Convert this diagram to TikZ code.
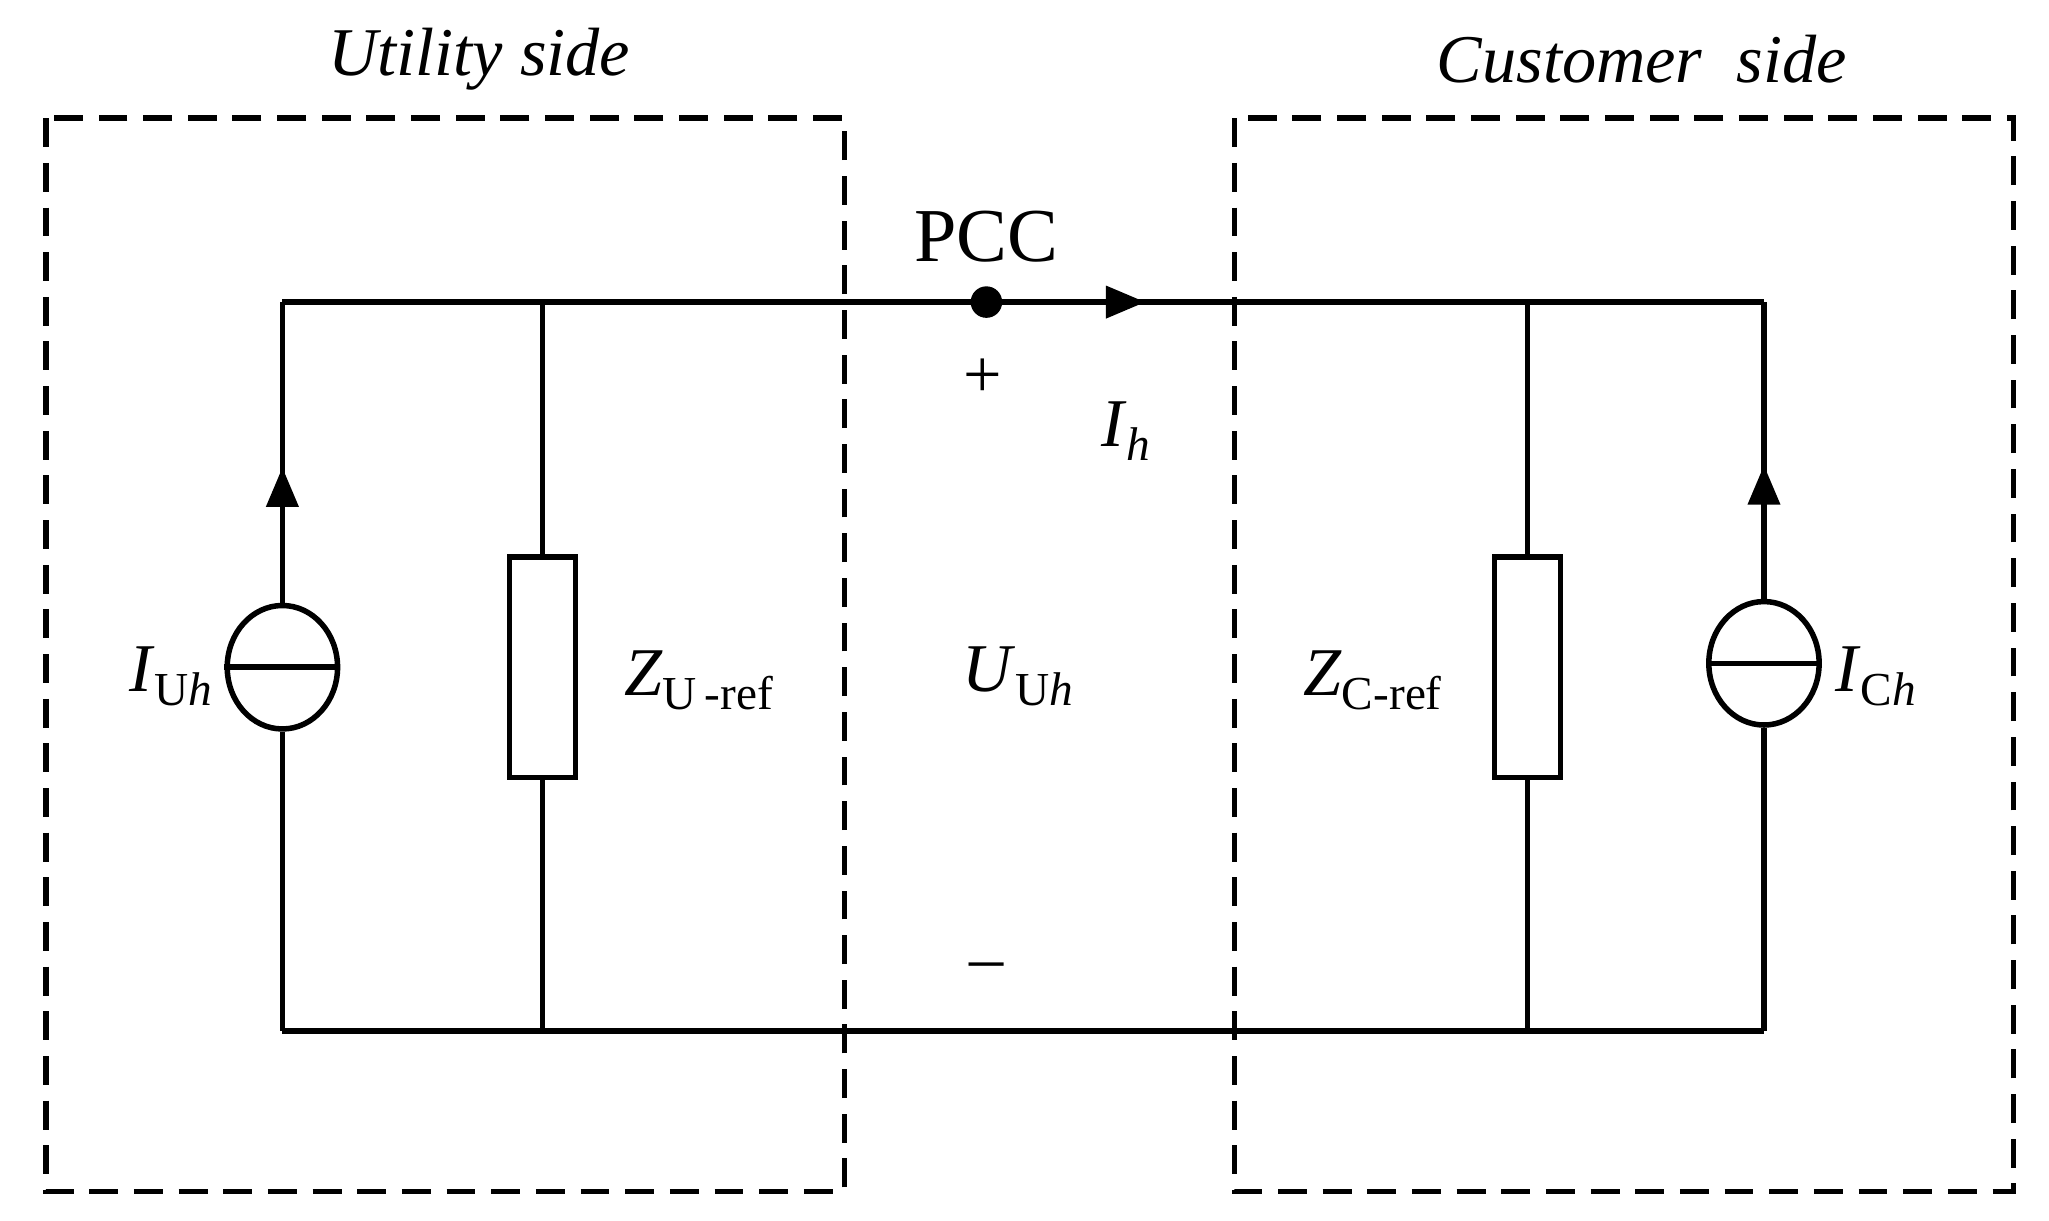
\documentclass[tikz,border=0pt]{standalone}
\usepackage{fontspec}
\setmainfont{Liberation Serif}
\usetikzlibrary{arrows.meta,decorations.markings,shapes.geometric}
\newcommand{\sbx}[1]{\raisebox{-0.45ex}{\fontsize{18}{20}\selectfont #1}}
\begin{document}
\begin{tikzpicture}[x=0.5pt,y=-0.5pt,
  wire/.style={line width=2.1pt},
  box/.style={line width=2.1pt,dash pattern=on 11pt off 6pt},
  lbl/.style={font=\fontsize{26}{30}\selectfont},
  src/.style={draw,ellipse,line width=2.1pt,minimum width=42pt,minimum height=47pt,inner sep=0pt},
  res/.style={draw,rectangle,line width=2.1pt,minimum width=25pt,minimum height=84pt,fill=white,inner sep=0pt},
  arr/.style={postaction={decorate},decoration={markings,mark=at position #1 with {\arrow{Triangle[length=15pt,width=12pt]}}}}]
\useasboundingbox (0,0) rectangle (1560,929);
\draw[box] (35,90) rectangle (643,907);
\draw[box] (940,90) rectangle (1533,907);
\coordinate (tl) at (215,230); \coordinate (tr) at (1343,230);
\coordinate (bl) at (215,785); \coordinate (br) at (1343,785);
\coordinate (t1) at (413,230); \coordinate (b1) at (413,785);
\coordinate (t2) at (1163,230); \coordinate (b2) at (1163,785);
\node[src] (s1) at (215,508) {};
\node[src] (s2) at (1343,505) {};
\draw[wire] (s1.west) -- (s1.east);
\draw[wire] (s2.west) -- (s2.east);
\draw[wire] (tl) -- (tr);
\draw[wire] (bl) -- (br);
\draw[wire] (t1) -- (b1);
\draw[wire] (t2) -- (b2);
\node[res] (r1) at (413,508) {};
\node[res] (r2) at (1163,508) {};
\draw[wire] (bl) -- (s1.south);
\draw[wire,arr=0.45] (s1.north) -- (tl);
\draw[wire] (br) -- (s2.south);
\draw[wire,arr=0.45] (s2.north) -- (tr);
\coordinate (a1) at (751,230); \coordinate (a2) at (872,230);
\draw[wire,arr=1] (a1) -- (a2);
\fill (a1) circle (6pt);
\node[lbl,font=\fontsize{29}{32}\selectfont] (pcc) at (751,180) {PCC};
\node[lbl] (plus) at (748,288) {+};
\node[lbl] (minus) at (751,740) {\textendash};
\node[lbl] (ih) at (857,328) {\textit{I}\sbx{\textit{h}}};
\node[lbl] (uuh) at (775,515) {\textit{U}\sbx{U\textit{h}}};
\node[lbl] (zu) at (532,518) {\textit{Z}\sbx{U\,-ref}};
\node[lbl] (zc) at (1045,518) {\textit{Z}\sbx{C-ref}};
\node[lbl] (iu) at (130,515) {\textit{I}\sbx{U\textit{h}}};
\node[lbl] (ic) at (1428,515) {\textit{I}\sbx{C\textit{h}}};
\node[lbl,font=\fontsize{26}{30}\selectfont\itshape] (us) at (365,45) {Utility side};
\node[lbl,font=\fontsize{26}{30}\selectfont\itshape] (cs) at (1250,45) {Customer\ \ side};
\end{tikzpicture}
\end{document}
